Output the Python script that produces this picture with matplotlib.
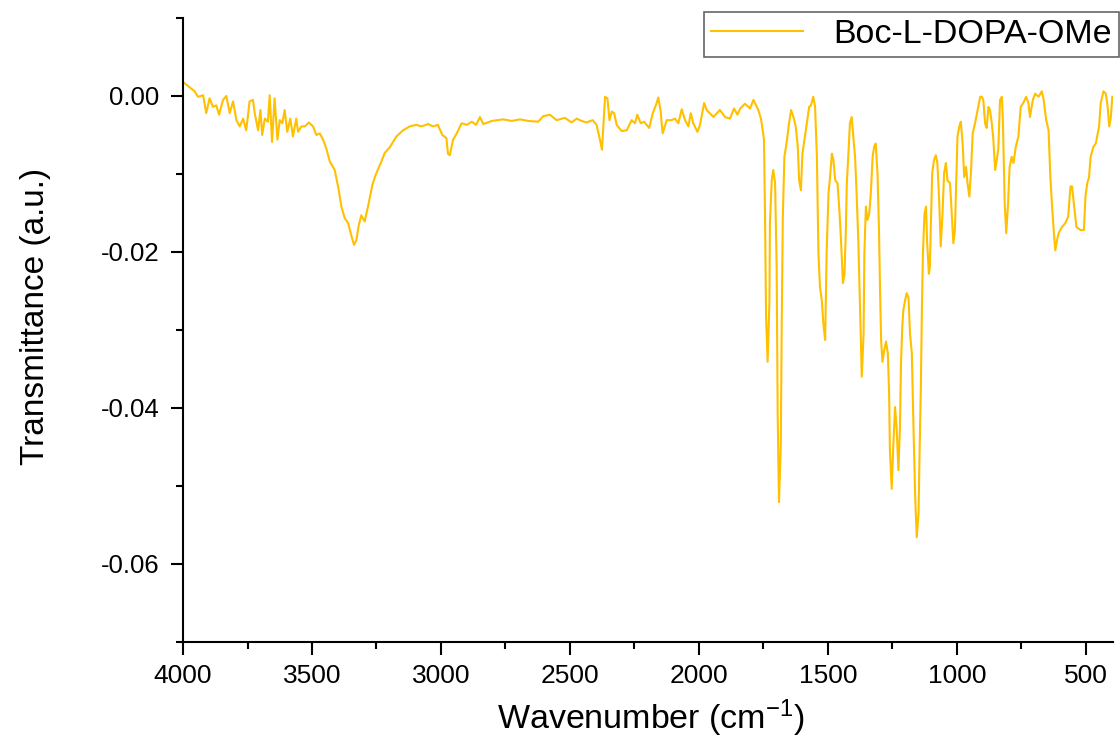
import matplotlib
matplotlib.use('Agg')
import matplotlib.pyplot as plt
from matplotlib.ticker import MultipleLocator

plt.rcParams['font.family'] = ['Liberation Sans', 'DejaVu Sans']
plt.rcParams['mathtext.default'] = 'regular'

# FTIR spectrum (wavenumber in cm-1, transmittance a.u.)
wavenumber = [
    4000, 3955, 3942, 3922, 3910, 3897, 3884, 3871, 3860, 3845, 3832, 3819, 3806,
    3793, 3780, 3767, 3755, 3742, 3729, 3722, 3709, 3700, 3693, 3683, 3671, 3664,
    3655, 3645, 3634, 3625, 3615, 3606, 3596, 3584, 3574, 3561, 3554, 3541, 3528,
    3512, 3496, 3483, 3470, 3457, 3445, 3431, 3412, 3399, 3386, 3373, 3360, 3346,
    3337, 3328, 3319, 3309, 3296, 3283, 3266, 3253, 3231, 3218, 3199, 3173, 3147,
    3121, 3096, 3076, 3050, 3031, 3012, 2995, 2979, 2973, 2966, 2953,
    2939, 2920, 2900, 2881, 2864, 2849, 2836, 2803, 2759, 2726, 2694, 2662, 2623,
    2604, 2578, 2552, 2520, 2494, 2474, 2455, 2436, 2412, 2397, 2384, 2376, 2364,
    2355, 2347, 2338, 2329, 2319, 2300, 2280, 2261, 2248, 2239, 2226, 2213, 2193,
    2179, 2164, 2158, 2149, 2141, 2125, 2106, 2093, 2080, 2067, 2054, 2041, 2032,
    2022, 2006, 1996, 1980, 1970, 1944, 1919, 1899, 1880, 1864, 1851, 1840, 1822,
    1802, 1789, 1779, 1770, 1760, 1753, 1748, 1744, 1740, 1734, 1727, 1725, 1718,
    1712, 1705, 1699, 1695, 1690, 1683, 1679, 1675, 1669, 1660, 1651, 1643, 1634,
    1625, 1617, 1612, 1605, 1599, 1591, 1582, 1573, 1566, 1557, 1550, 1543, 1537,
    1531, 1524, 1518, 1511, 1505, 1498, 1492, 1485, 1479, 1472, 1463, 1455, 1449,
    1442, 1436, 1431, 1427, 1420, 1415, 1408, 1402, 1395, 1389, 1382, 1376, 1369,
    1362, 1359, 1353, 1347, 1340, 1334, 1327, 1321, 1315, 1308, 1302, 1298, 1294,
    1289, 1282, 1275, 1268, 1263, 1260, 1253, 1247, 1240, 1234, 1227, 1221, 1217,
    1212, 1208, 1201, 1195, 1188, 1182, 1175, 1168, 1162, 1156, 1149, 1145, 1140,
    1136, 1132, 1126, 1120, 1116, 1109, 1105, 1102, 1096, 1089, 1082, 1076, 1069,
    1063, 1056, 1050, 1043, 1037, 1027, 1021, 1014, 1008, 1004, 998, 991, 985,
    978, 972, 965, 959, 952, 946, 939, 930, 920, 910,
    904, 898, 891, 885, 878, 872, 865, 859, 852, 846, 840, 833, 826, 822, 815,
    809, 802, 796, 788, 781, 772, 762, 753, 743, 732, 723, 717, 706, 697, 684,
    671, 664, 654, 645, 638, 632, 626, 619, 612, 606, 593, 580, 569, 560, 554,
    547, 537, 521, 508, 502, 495, 488, 482, 471, 462, 449, 443, 432, 423, 416,
    410, 404, 398,
]

transmittance = [
    0.0018, 0.0006, -0.0001, 0.0001, -0.0022, -0.0003, -0.0014, -0.0012, -0.0024,
    -0.0005, 0.0000, -0.0022, -0.0007, -0.0031, -0.0039, -0.0029, -0.0044, -0.0007,
    -0.0005, -0.0022, -0.0044, -0.0018, -0.0050, -0.0029, -0.0033, 0.0001, -0.0059,
    -0.0003, -0.0056, -0.0031, -0.0035, -0.0018, -0.0046, -0.0029, -0.0052, -0.0029,
    -0.0046, -0.0039, -0.0039, -0.0034, -0.0039, -0.0050, -0.0048, -0.0056, -0.0067,
    -0.0084, -0.0095, -0.0116, -0.0142, -0.0157, -0.0163, -0.0181, -0.0191, -0.0185,
    -0.0166, -0.0153, -0.0161, -0.0142, -0.0114, -0.0101, -0.0084, -0.0073, -0.0066,
    -0.0052, -0.0044, -0.0039, -0.0037, -0.0039, -0.0036, -0.0039, -0.0037, -0.0050,
    -0.0054, -0.0074, -0.0076, -0.0056,
    -0.0048, -0.0035, -0.0037, -0.0033, -0.0037, -0.0027, -0.0036, -0.0032, -0.0030,
    -0.0032, -0.0030, -0.0032, -0.0033, -0.0026, -0.0024, -0.0031, -0.0028, -0.0034,
    -0.0029, -0.0032, -0.0034, -0.0031, -0.0037, -0.0056, -0.0069, -0.0001, -0.0003,
    -0.0031, -0.0020, -0.0022, -0.0037, -0.0045, -0.0044, -0.0031, -0.0035, -0.0024,
    -0.0035, -0.0033, -0.0041, -0.0022, -0.0009, -0.0002, -0.0018, -0.0048, -0.0031,
    -0.0031, -0.0029, -0.0035, -0.0017, -0.0031, -0.0039, -0.0022, -0.0035, -0.0046,
    -0.0037, -0.0009, -0.0018, -0.0027, -0.0018, -0.0027, -0.0029, -0.0016, -0.0024,
    -0.0016, -0.0010,
    -0.0016, -0.0005, -0.0012, -0.0018, -0.0029, -0.0044, -0.0056, -0.0155, -0.0283,
    -0.0341, -0.0266, -0.0163, -0.0108, -0.0095, -0.0112, -0.0219, -0.0407, -0.0521,
    -0.0450, -0.0283, -0.0155, -0.0078, -0.0059, -0.0035, -0.0018, -0.0027, -0.0039,
    -0.0065, -0.0108, -0.0121, -0.0074, -0.0056, -0.0035, -0.0014, -0.0012, -0.0001,
    -0.0014, -0.0078, -0.0202, -0.0245, -0.0262, -0.0292, -0.0313, -0.0198, -0.0125,
    -0.0104, -0.0074, -0.0082, -0.0108, -0.0112, -0.0151, -0.0189, -0.0240, -0.0228,
    -0.0176, -0.0112, -0.0069, -0.0035, -0.0027, -0.0052, -0.0078, -0.0125, -0.0190,
    -0.0270, -0.0360, -0.0305, -0.0202, -0.0142, -0.0159, -0.0151, -0.0125, -0.0078,
    -0.0065, -0.0061, -0.0099, -0.0176, -0.0253, -0.0313, -0.0341, -0.0326, -0.0315,
    -0.0330, -0.0382, -0.0454, -0.0504, -0.0450, -0.0399, -0.0425, -0.0480, -0.0425,
    -0.0343, -0.0296, -0.0275, -0.0262, -0.0253, -0.0258, -0.0305, -0.0330, -0.0433,
    -0.0514, -0.0566, -0.0536, -0.0459, -0.0373, -0.0275, -0.0202, -0.0151, -0.0142,
    -0.0185, -0.0228, -0.0219, -0.0176, -0.0099, -0.0082, -0.0076, -0.0086, -0.0134,
    -0.0193, -0.0151, -0.0099, -0.0086, -0.0108, -0.0112, -0.0146, -0.0189, -0.0172,
    -0.0125, -0.0052, -0.0039, -0.0033, -0.0061, -0.0104, -0.0091, -0.0112, -0.0129,
    -0.0099, -0.0048, -0.0035, -0.0018, -0.0001,
    -0.0001, -0.0005, -0.0035, -0.0041, -0.0014, -0.0018, -0.0035, -0.0056, -0.0095,
    -0.0082, -0.0069, -0.0005, -0.0001, -0.0031, -0.0138, -0.0176, -0.0138, -0.0091,
    -0.0078, -0.0086, -0.0065, -0.0052, -0.0014, -0.0009, -0.0001, -0.0009, -0.0027,
    -0.0005, 0.0003, -0.0001, 0.0006, -0.0005, -0.0031, -0.0044, -0.0104, -0.0138,
    -0.0168, -0.0198, -0.0185, -0.0176, -0.0168, -0.0163, -0.0155, -0.0116, -0.0116,
    -0.0138, -0.0168, -0.0172, -0.0172, -0.0129, -0.0112, -0.0104, -0.0078, -0.0065,
    -0.0061, -0.0039, -0.0009, 0.0006, 0.0003, -0.0014, -0.0039, -0.0029, -0.0001,
]

fig = plt.figure(figsize=(11.2, 7.45), dpi=100)
ax = fig.add_axes([0.1634, 0.1387, 0.8304, 0.8371])

ax.plot(wavenumber, transmittance, color='#FFC000', linewidth=1.5,
        label='Boc-L-DOPA-OMe')

ax.set_xlim(4000, 395)
ax.set_ylim(-0.07, 0.01)

ax.xaxis.set_major_locator(MultipleLocator(500))
ax.xaxis.set_minor_locator(MultipleLocator(250))
ax.yaxis.set_major_locator(MultipleLocator(0.02))
ax.yaxis.set_minor_locator(MultipleLocator(0.01))
ax.yaxis.set_major_formatter(lambda v, pos: f'{v:.2f}' if abs(v) > 1e-9 else '0.00')

for side in ['top', 'right']:
    ax.spines[side].set_visible(False)
for side in ['left', 'bottom']:
    ax.spines[side].set_linewidth(1.5)

ax.tick_params(which='major', direction='out', length=9, width=1.5)
ax.tick_params(which='minor', direction='out', length=5, width=1.5)
ax.tick_params(axis='x', which='major', labelsize=19, pad=7)
ax.tick_params(axis='y', which='major', labelsize=18.5, pad=8)

ax.set_xlabel('Wavenumber (cm$^{-1}$)', fontsize=24.5)
ax.set_ylabel('Transmittance (a.u.)', fontsize=24)
ax.xaxis.set_label_coords(0.503, -0.09)
ax.yaxis.set_label_coords(-0.142, 0.522)

leg = ax.legend(loc='upper right', bbox_to_anchor=(1119 / 1120, 1 - 12 / 745),
                bbox_transform=fig.transFigure, borderaxespad=0, fontsize=24.5,
                fancybox=False, handlelength=2.7, handletextpad=0.9,
                borderpad=0.2)
leg.get_frame().set_edgecolor('#404040')
leg.get_frame().set_linewidth(1.2)

fig.savefig('out.png', dpi=100)
